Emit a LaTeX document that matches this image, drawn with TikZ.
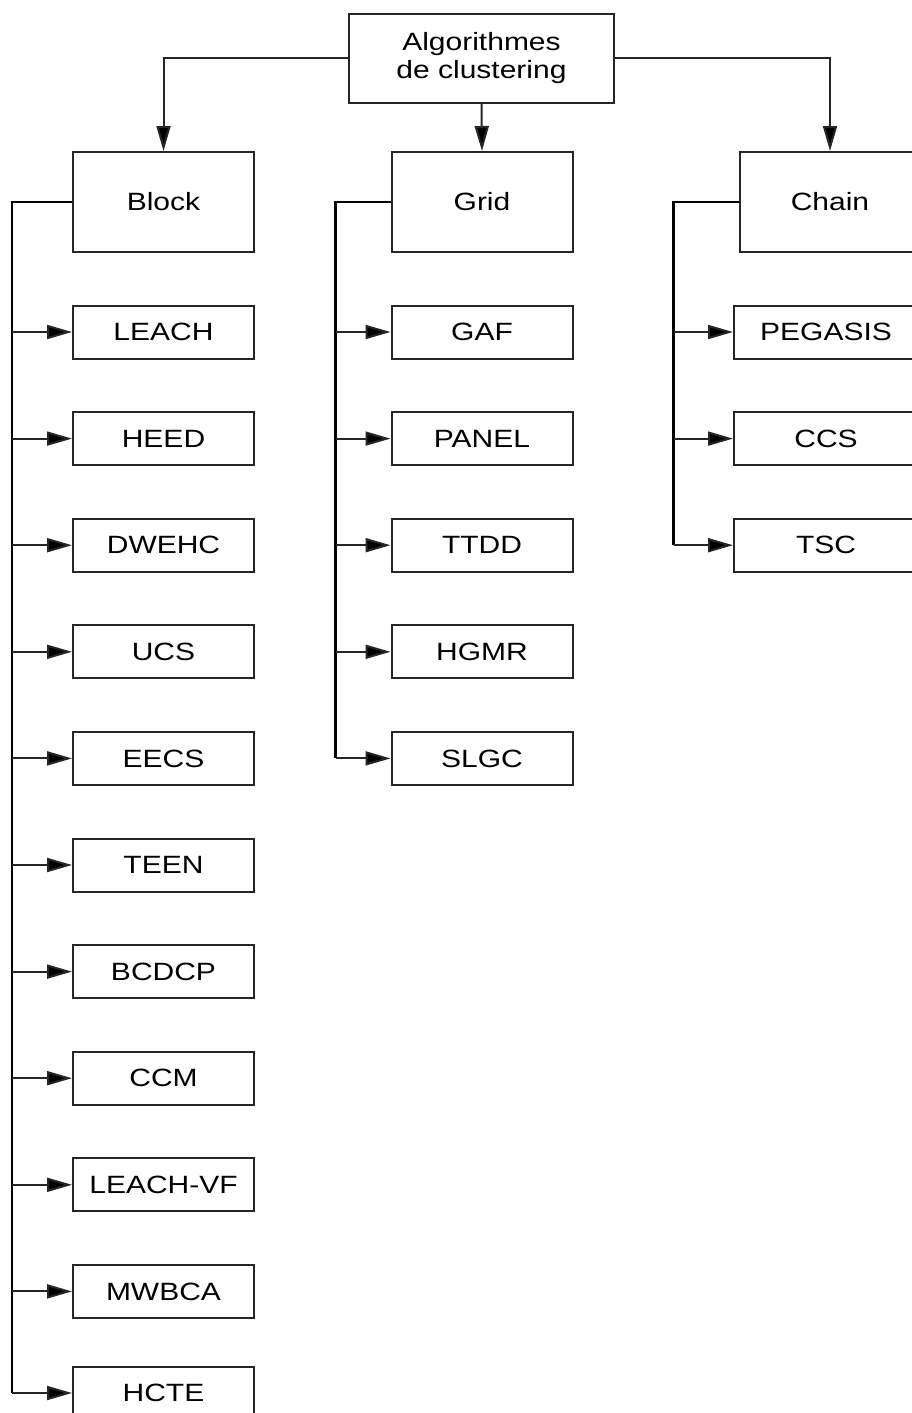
\documentclass[tikz,border=0pt]{standalone}
\usepackage{fontspec}
\setmainfont[FakeStretch=1.2]{Liberation Sans}
\usepackage{tikz}
\usetikzlibrary{arrows.meta,positioning,calc}
\tikzstyle{catbox} = [rectangle, minimum width=181pt, minimum height=100pt, align=center, draw=black!85, line width=2pt, fill=white, inner sep=0pt]
\tikzstyle{algobox} = [rectangle, minimum width=181pt, minimum height=53pt, align=center, draw=black!85, line width=2pt, fill=white, inner sep=0pt]
\tikzstyle{arrow} = [line width=2pt, draw=black!85, -{Triangle[length=25pt,width=14pt,fill=black]}]
\tikzstyle{trunk} = [line width=2.6pt]

\begin{document}
\begin{tikzpicture}[x=1pt, y=-1pt, font=\fontsize{25}{28}\selectfont]
    \useasboundingbox (0,0) rectangle (911,1413);
    % root and categories
    \node[catbox, minimum width=265pt, minimum height=89pt] (root) at (481.5,58.5) {Algorithmes\\de clustering};
    \node[catbox] (block) at (163.5,202) {Block};
    \node[catbox] (grid) at (482,202) {Grid};
    \node[catbox] (chain) at (830,202) {Chain};

    \draw[arrow] (root.west) -| (block.north);
    \draw[arrow] (root.south) -- (grid.north);
    \draw[arrow] (root.east) -| (chain.north);

    % Block family
    \foreach \name [count=\i] in {LEACH,HEED,DWEHC,UCS,EECS,TEEN,BCDCP,CCM,LEACH-VF,MWBCA}
        \node[algobox] (b\i) at (163.5,{332+(\i-1)*106.6}) {\name};
    \node[algobox] (b11) at (163.5,1393) {HCTE};
    \coordinate (bt) at ($(block.west)+(-60,0)$);
    \draw[trunk] (block.west) -- (bt) -- (bt |- b11.west);
    \foreach \i in {1,...,11}
        \draw[arrow] (bt |- b\i.west) -- (b\i.west);

    % Grid family
    \foreach \name [count=\i] in {GAF,PANEL,TTDD,HGMR,SLGC}
        \node[algobox] (g\i) at (482,{332+(\i-1)*106.6}) {\name};
    \coordinate (gt) at ($(grid.west)+(-55,0)$);
    \draw[trunk] (grid.west) -- (gt) -- (gt |- g5.west);
    \foreach \i in {1,...,5}
        \draw[arrow] (gt |- g\i.west) -- (g\i.west);

    % Chain family
    \foreach \name [count=\i] in {PEGASIS,CCS,TSC}
        \node[algobox, minimum width=184pt] (c\i) at (826,{332+(\i-1)*106.6}) {\name};
    \coordinate (ct) at ($(chain.west)+(-65,0)$);
    \draw[trunk] (chain.west) -- (ct) -- (ct |- c3.west);
    \foreach \i in {1,...,3}
        \draw[arrow] (ct |- c\i.west) -- (c\i.west);
\end{tikzpicture}
\end{document}
